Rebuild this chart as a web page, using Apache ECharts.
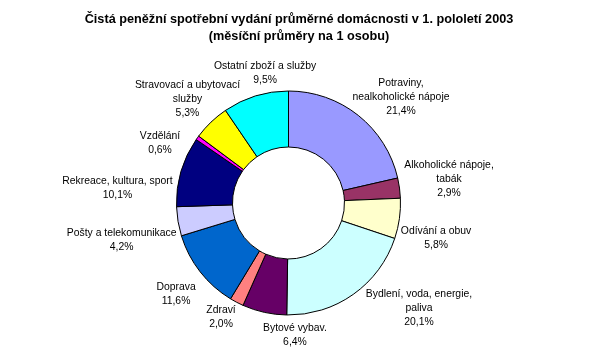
<!DOCTYPE html>
<html>
<head>
<meta charset="utf-8">
<script src="https://cdn.jsdelivr.net/npm/echarts@6/dist/echarts.min.js"></script>
<style>
html,body{margin:0;padding:0;background:#fff;}
#chart{width:598px;height:355px;}
</style>
</head>
<body>
<div id="chart"></div>
<script>
// ---- data ----
const categories = [
  'Potraviny,\nnealkoholické nápoje',
  'Alkoholické nápoje,\ntabák',
  'Odívání a obuv',
  'Bydlení, voda, energie,\npaliva',
  'Bytové vybav.',
  'Zdraví',
  'Doprava',
  'Pošty a telekomunikace',
  'Rekreace, kultura, sport',
  'Vzdělání',
  'Stravovací a ubytovací\nslužby',
  'Ostatní zboží a služby'
];
const shares = [21.4, 2.9, 5.8, 20.1, 6.4, 2.0, 11.6, 4.2, 10.1, 0.6, 5.3, 9.5];
const titleLines = [
  'Čistá peněžní spotřební vydání průměrné domácnosti v 1. pololetí 2003',
  '(měsíční průměry na 1 osobu)'
];

// ---- style / layout ----
const colors = ['#9999FF','#993366','#FFFFCC','#CCFFFF','#660066','#FF8080',
                '#0066CC','#CCCCFF','#000080','#FF00FF','#FFFF00','#00FFFF'];
const CX = 288.5, CY = 203, R_OUT = 112, R_IN = 56;
// label placement: [angle in degrees clockwise from top, distance in outer radii]
const labelPlacement = [
  [46.6, 1.382], [81.5, 1.449], [103.3, 1.354], [128.9, 1.497],
  [177.2, 1.180], [210.5, 1.187], [231.0, 1.292], [257.3, 1.527],
  [275.0, 1.533], [295.1, 1.267], [315.8, 1.294], [349.8, 1.182]
];

const chart = echarts.init(document.getElementById('chart'), null, {renderer: 'canvas'});
chart.setOption({
  animation: false,
  backgroundColor: '#ffffff',
  title: {
    text: titleLines.join('\n'),
    left: 'center',
    top: 6,
    textStyle: {
      fontFamily: 'Liberation Sans, Arial, sans-serif',
      fontSize: 12.7,
      fontWeight: 'bold',
      color: '#000',
      lineHeight: 17
    }
  },
  series: [{
    type: 'pie',
    center: [CX, CY],
    radius: [R_IN, R_OUT],
    startAngle: 90,
    clockwise: true,
    avoidLabelOverlap: false,
    color: colors,
    itemStyle: { borderColor: '#000', borderWidth: 1 },
    emphasis: { disabled: true },
    label: {
      show: true,
      position: 'outside',
      fontFamily: 'Liberation Sans, Arial, sans-serif',
      fontSize: 10.4,
      lineHeight: 14,
      color: '#000',
      formatter: function (p) {
        return p.name + '\n' + p.value.toFixed(1).replace('.', ',') + '%';
      }
    },
    labelLine: { show: false },
    labelLayout: function (p) {
      const pl = labelPlacement[p.dataIndex];
      const a = pl[0] * Math.PI / 180;
      return {
        x: CX + pl[1] * R_OUT * Math.sin(a),
        y: CY - pl[1] * R_OUT * Math.cos(a),
        align: 'center',
        verticalAlign: 'middle'
      };
    },
    data: categories.map((c, i) => ({ name: c, value: shares[i] }))
  }]
});
</script>
</body>
</html>
